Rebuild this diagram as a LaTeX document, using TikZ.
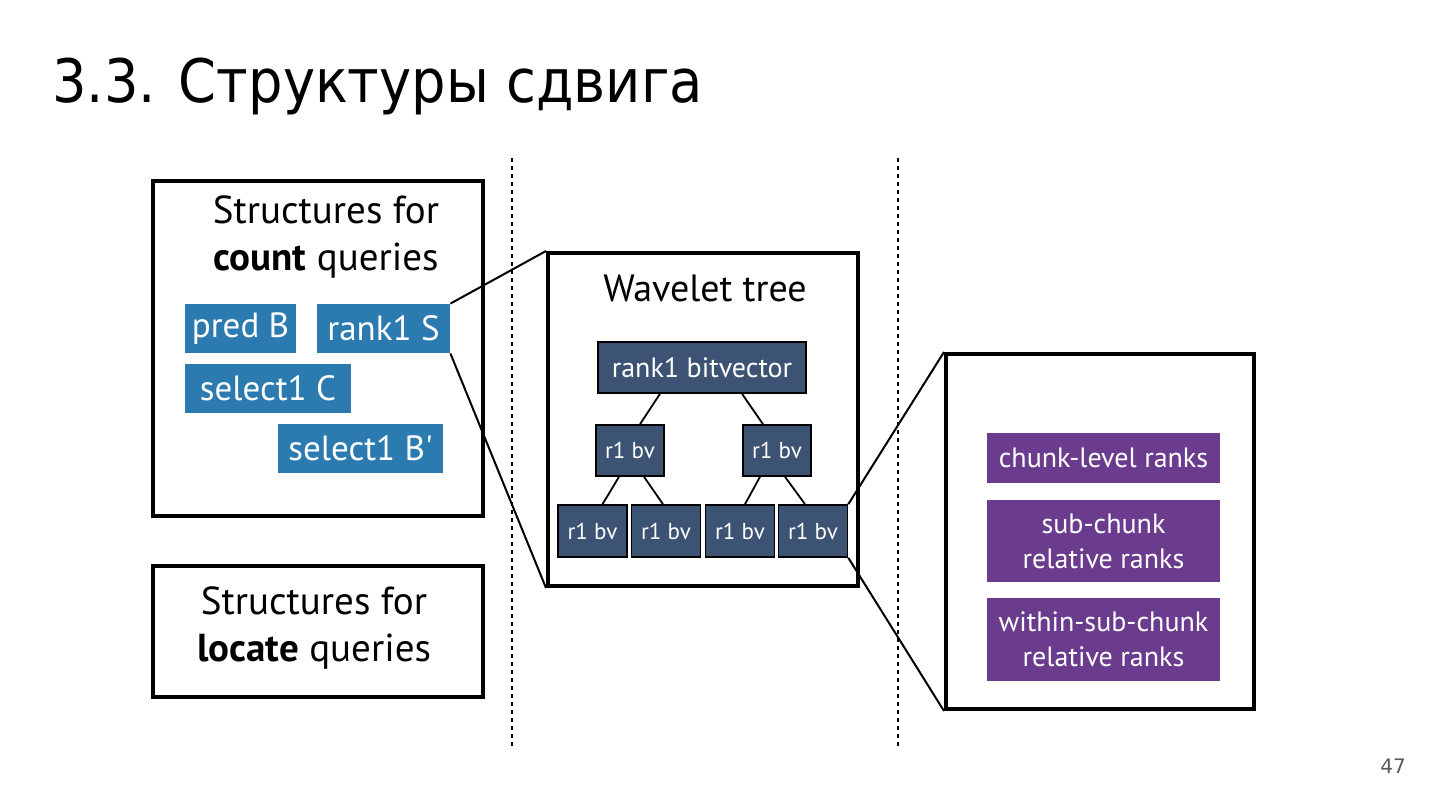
\documentclass[tikz,border=0pt]{standalone}
\usepackage{fontspec}
\setmainfont{PT Sans}
\newfontfamily\qfont{PT Sans}
\newfontfamily\titlefont[FakeStretch=0.905]{DejaVu Sans}
\newfontfamily\pagefont{DejaVu Sans}
\usetikzlibrary{positioning}
\definecolor{qblue}{HTML}{2B7BB0}
\definecolor{wtslate}{HTML}{3D5373}
\definecolor{rkpurple}{HTML}{6B3C8E}

\begin{document}
\begin{tikzpicture}[
x=0.5pt, y=-0.5pt,
frame/.style={draw, line width=2pt, inner sep=0pt},
qbox/.style={fill=qblue, text=white, inner sep=0pt, font=\qfont\fontsize{17.5}{19}\selectfont},
wtbox/.style={fill=wtslate, draw=black, line width=0.8pt, text=white, inner sep=0pt},
rkbox/.style={fill=rkpurple, text=white, inner sep=0pt, align=center, minimum width=116.5pt, font=\fontsize{14}{17.5}\selectfont},
zoom/.style={line width=1pt},
head/.style={align=center, font=\fontsize{19.5}{23.5}\selectfont}
]
\useasboundingbox (0,0) rectangle (1440,810);

%-------------------------
% Titulo
%-------------------------

\node (title) [anchor=base west, inner sep=0pt, font=\titlefont\fontsize{30}{36}\selectfont] at (52,102) {3.3. Структуры сдвига};
\node (page) [inner sep=0pt, text=black!65, font=\pagefont\fontsize{10}{12}\selectfont] at (1393,766) {47};

%-------------------------
% Separadores
%-------------------------

\coordinate (sepA top) at (512,158);
\coordinate (sepA bot) at (512,748);
\coordinate (sepB top) at (898,158);
\coordinate (sepB bot) at (898,748);
\draw[line width=1pt, dash pattern=on 2pt off 2pt] (sepA top) -- (sepA bot);
\draw[line width=1pt, dash pattern=on 2pt off 2pt] (sepB top) -- (sepB bot);

%-------------------------
% Marcos
%-------------------------

\node (countbox)  [frame, minimum width=165pt, minimum height=167.5pt] at (318,348.5) {};
\node (locatebox) [frame, minimum width=165pt, minimum height=65.5pt] at (318,631.5) {};
\node (wtframe)   [frame, minimum width=155pt, minimum height=166.5pt] at (703,419.5) {};
\node (rkframe)   [frame, minimum width=154pt, minimum height=177.5pt] at (1100,531.5) {};

\node (counthead)  [head] at (326,237) {Structures for\\\textbf{count} queries};
\node (locatehead) [head] at (314,628) {Structures for\\\textbf{locate} queries};
\node (wthead) [font=\fontsize{19}{22}\selectfont] at (705,288) {Wavelet tree};

%-------------------------
% Estructuras count
%-------------------------

\node (predB)    [qbox, minimum width=55.5pt, minimum height=24.5pt] at (240.5,328.5) {pred B};
\node (rankS)    [qbox, minimum width=66.5pt, minimum height=24.5pt] at (383.5,328.5) {rank1 S};
\node (selectC)  [qbox, minimum width=83pt, minimum height=24.5pt] at (268,388.5) {select1 C};
\node (selectBp) [qbox, minimum width=82.5pt, minimum height=24.5pt] at (360.5,448.5) {select1 B'};

%-------------------------
% Wavelet tree
%-------------------------

\node (bv) [wtbox, minimum width=104pt, minimum height=25.5pt, font=\fontsize{14}{16}\selectfont] at (702,367.5) {rank1 bitvector};

\node (bvL) [wtbox, minimum width=34pt, minimum height=25.5pt, font=\fontsize{11.5}{13}\selectfont] at (630,450.5) {r1 bv};
\node (bvR) [wtbox, minimum width=34pt, minimum height=25.5pt, font=\fontsize{11.5}{13}\selectfont] at (777,450.5) {r1 bv};

\node (bvLL) [wtbox, minimum width=34.5pt, minimum height=26pt, font=\fontsize{11.5}{13}\selectfont] at (592.5,531) {r1 bv};
\node (bvLR) [wtbox, minimum width=34.5pt, minimum height=26pt, font=\fontsize{11.5}{13}\selectfont] at (666,531) {r1 bv};
\node (bvRL) [wtbox, minimum width=34.5pt, minimum height=26pt, font=\fontsize{11.5}{13}\selectfont] at (740,531) {r1 bv};
\node (bvRR) [wtbox, minimum width=34.5pt, minimum height=26pt, font=\fontsize{11.5}{13}\selectfont] at (813,531) {r1 bv};

%-------------------------
% Rangos
%-------------------------

\node (chunk)  [rkbox, minimum height=25pt] at (1103.5,458) {chunk-level ranks};
\node (sub)    [rkbox, minimum height=41pt] at (1103.5,541) {sub-chunk\\relative ranks};
\node (within) [rkbox, minimum height=41.5pt] at (1103.5,639.5) {within-sub-chunk\\relative ranks};

%-------------------------
% Lineas
%-------------------------

\draw[line width=0.9pt] ([xshift=-21pt]bv.south) -- ([xshift=5pt]bvL.north);
\draw[line width=0.9pt] ([xshift=20pt]bv.south) -- ([xshift=-7pt]bvR.north);
\draw[line width=0.9pt] ([xshift=-5.5pt]bvL.south) -- ([xshift=5pt]bvLL.north);
\draw[line width=0.9pt] ([xshift=7pt]bvL.south) -- ([xshift=-1.5pt]bvLR.north);
\draw[line width=0.9pt] ([xshift=-8.5pt]bvR.south) -- ([xshift=2.5pt]bvRL.north);
\draw[line width=0.9pt] ([xshift=4pt]bvR.south) -- ([xshift=-4pt]bvRR.north);

\draw[zoom] (rankS.north east) -- (wtframe.north west);
\draw[zoom] (rankS.south east) -- (wtframe.south west);
\draw[zoom] (bvRR.north east) -- (rkframe.north west);
\draw[zoom] (bvRR.south east) -- (rkframe.south west);

\end{tikzpicture}
\end{document}
